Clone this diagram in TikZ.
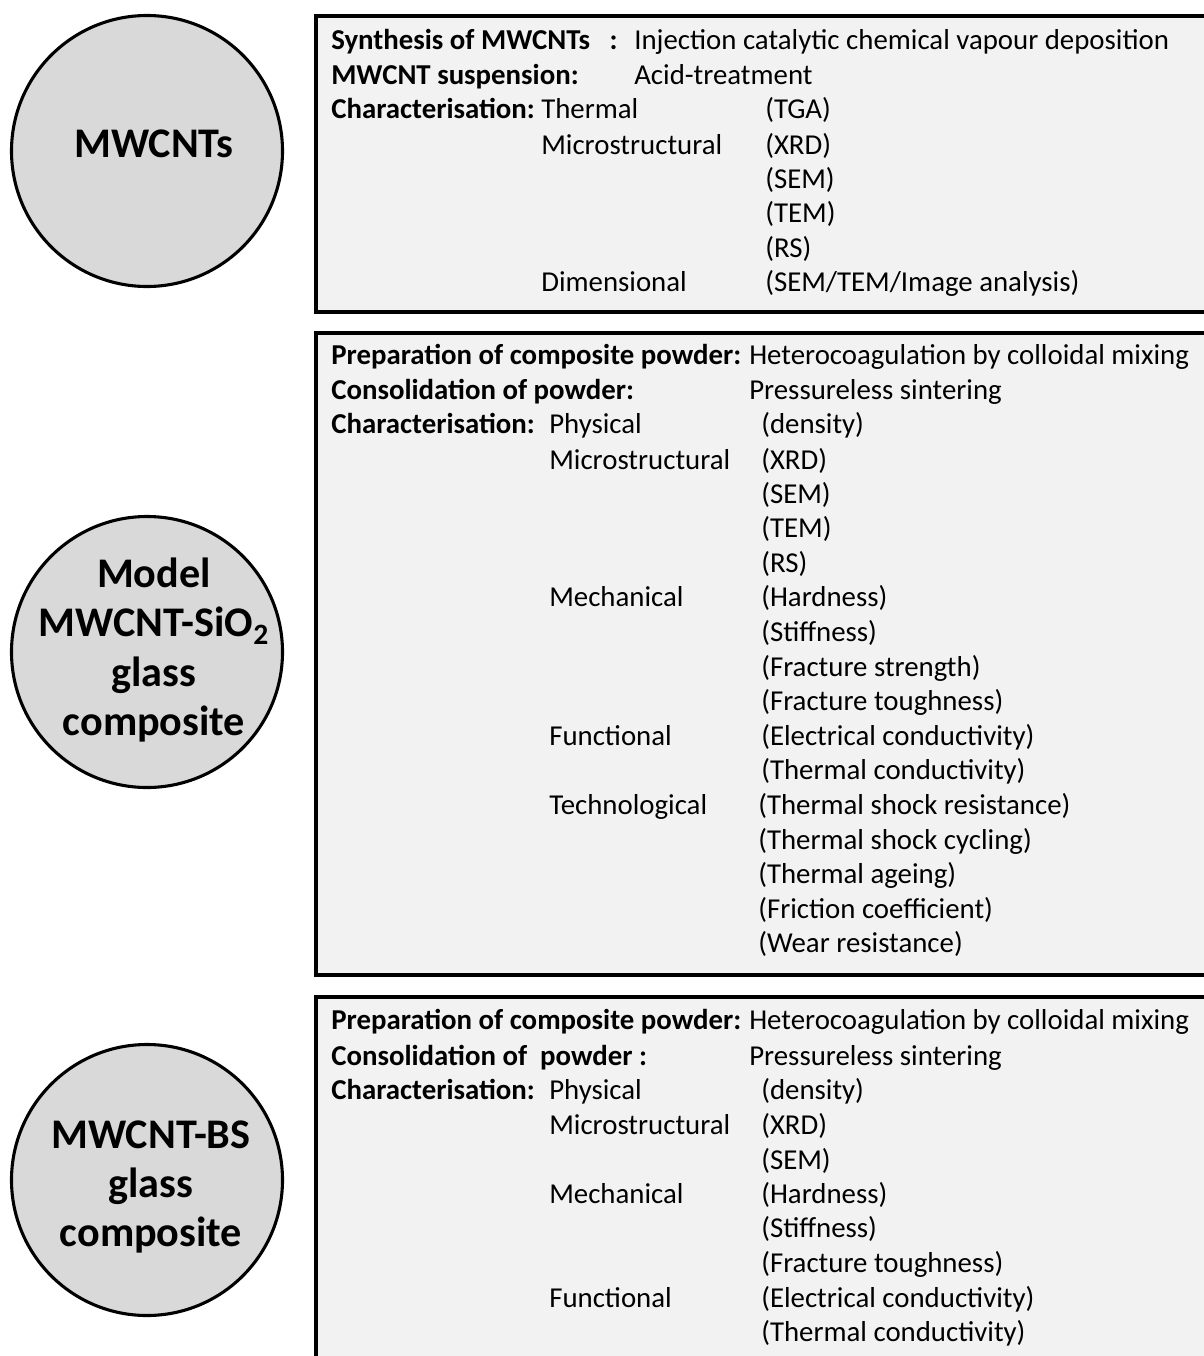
\documentclass[tikz,border=0pt]{standalone}
\usepackage{fontspec}
\setmainfont{Carlito}
\usetikzlibrary{positioning}

\tikzset{
	blob/.style = {circle, draw, line width=2.2pt, fill=black!15, minimum size=271*0.025cm, inner sep=0pt},
	blobtxt/.style = {align=center, inner sep=0pt, font=\fontsize{30}{35}\selectfont\bfseries},
	panel/.style = {draw, line width=2.6pt, fill=black!5},
	txt/.style = {anchor=base west, inner sep=0pt, font=\fontsize{20.5}{24}\selectfont},
	hd/.style = {txt, font=\fontsize{20.5}{24}\selectfont\bfseries}
}

\begin{document}
\begin{tikzpicture}[x=0.025cm, y=-0.025cm]
	
	\useasboundingbox (0,0) rectangle (1204,1356);
	\clip (0,0) rectangle (1204,1356);
	
	% circles on the left
	\node [blob] (cnt) at (147,151) {};
	\node [blob] (sio) at (147,652) {};
	\node [blob] (bs) at (147,1180) {};
	\node [blobtxt] (cntlbl) at (154,144) {MWCNTs};
	\node [blobtxt] (siolbl) at (154,650) {Model\\MWCNT-SiO\textsubscript{2}\\glass\\composite};
	\node [blobtxt] (bslbl) at (151,1187) {MWCNT-BS\\glass\\composite};
	
	% panels
	\draw [panel] (316,16) rectangle (1240,312);
	\draw [panel] (316,333) rectangle (1240,975);
	\draw [panel] (316,997) rectangle (1240,1400);
	
	% panel 1
	\node [hd] (syn) at (331,49) {Synthesis of MWCNTs\ \ \ :};
	\node [txt] (icvd) at (634,49) {Injection catalytic chemical vapour deposition};
	\node [hd] (susp) at (331,84) {MWCNT suspension:};
	\node [txt] (acid) at (634,84) {Acid-treatment};
	\node [hd] (char1) at (331,118) {Characterisation:};
	\node [txt] (therm) at (541,118) {Thermal};
	\node [txt] (tga) at (765,118) {(TGA)};
	\node [txt] (micro1) at (541,154) {Microstructural};
	\node [txt] (xrd1) at (765,154) {(XRD)};
	\node [txt] (sem1) at (765,188) {(SEM)};
	\node [txt] (tem1) at (765,222) {(TEM)};
	\node [txt] (rs1) at (765,257) {(RS)};
	\node [txt] (dim) at (541,291) {Dimensional};
	\node [txt] (img) at (765,291) {(SEM/TEM/Image analysis)};
	
	% panel 2
	\node [hd] (prep2) at (331,364) {Preparation of composite powder:};
	\node [txt] (het2) at (749,364) {Heterocoagulation by colloidal mixing};
	\node [hd] (cons2) at (331,399) {Consolidation of powder:};
	\node [txt] (sint2) at (749,399) {Pressureless sintering};
	\node [hd] (char2) at (331,433) {Characterisation:};
	\node [txt] (phys2) at (549,433) {Physical};
	\node [txt] (dens2) at (761,433) {(density)};
	\node [txt] (micro2) at (549,469) {Microstructural};
	\node [txt] (xrd2) at (761,469) {(XRD)};
	\node [txt] (sem2) at (761,503) {(SEM)};
	\node [txt] (tem2) at (761,537) {(TEM)};
	\node [txt] (rs2) at (761,572) {(RS)};
	\node [txt] (mech2) at (549,606) {Mechanical};
	\node [txt] (hard2) at (761,606) {(Hardness)};
	\node [txt] (stif2) at (761,641) {(Stiffness)};
	\node [txt] (fstr2) at (761,676) {(Fracture strength)};
	\node [txt] (ftou2) at (761,710) {(Fracture toughness)};
	\node [txt] (func2) at (549,745) {Functional};
	\node [txt] (elec2) at (761,745) {(Electrical conductivity)};
	\node [txt] (tcon2) at (761,779) {(Thermal conductivity)};
	\node [txt] (tech2) at (549,814) {Technological};
	\node [txt] (tsr2) at (758,814) {(Thermal shock resistance)};
	\node [txt] (tsc2) at (758,849) {(Thermal shock cycling)};
	\node [txt] (age2) at (758,883) {(Thermal ageing)};
	\node [txt] (fric2) at (758,918) {(Friction coefficient)};
	\node [txt] (wear2) at (758,952) {(Wear resistance)};
	
	% panel 3
	\node [hd] (prep3) at (331,1029) {Preparation of composite powder:};
	\node [txt] (het3) at (749,1029) {Heterocoagulation by colloidal mixing};
	\node [hd] (cons3) at (331,1065) {Consolidation of\ \ powder :};
	\node [txt] (sint3) at (749,1065) {Pressureless sintering};
	\node [hd] (char3) at (331,1099) {Characterisation:};
	\node [txt] (phys3) at (549,1099) {Physical};
	\node [txt] (dens3) at (761,1099) {(density)};
	\node [txt] (micro3) at (549,1134) {Microstructural};
	\node [txt] (xrd3) at (761,1134) {(XRD)};
	\node [txt] (sem3) at (761,1169) {(SEM)};
	\node [txt] (mech3) at (549,1203) {Mechanical};
	\node [txt] (hard3) at (761,1203) {(Hardness)};
	\node [txt] (stif3) at (761,1237) {(Stiffness)};
	\node [txt] (ftou3) at (761,1272) {(Fracture toughness)};
	\node [txt] (func3) at (549,1307) {Functional};
	\node [txt] (elec3) at (761,1307) {(Electrical conductivity)};
	\node [txt] (tcon3) at (761,1341) {(Thermal conductivity)};

\end{tikzpicture}
\end{document}
